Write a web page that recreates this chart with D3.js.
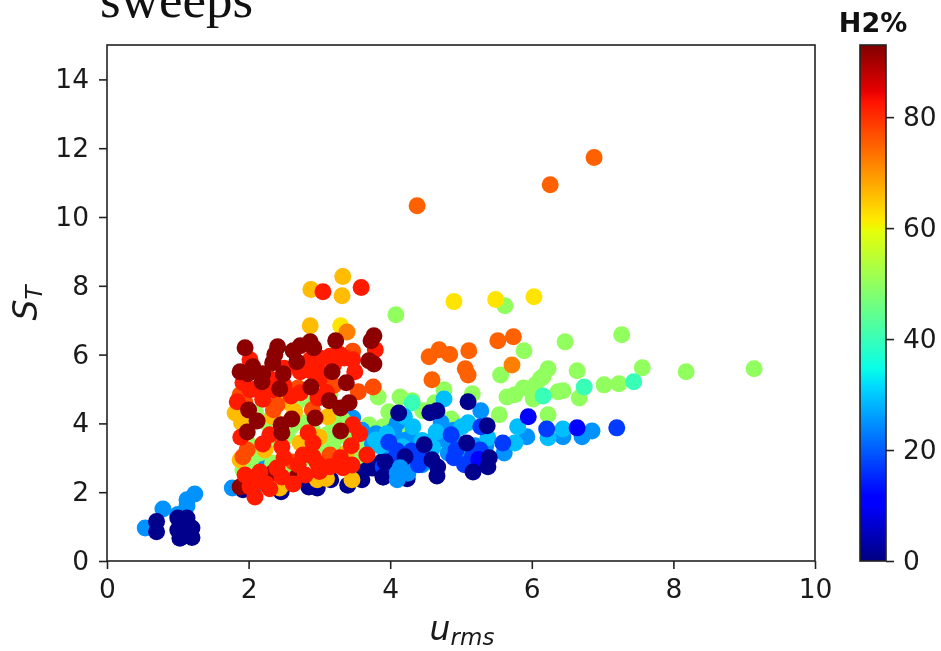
<!DOCTYPE html>
<html><head><meta charset="utf-8">
<script src="https://cdn.jsdelivr.net/npm/d3@7"></script>
<style>html,body{margin:0;padding:0;background:#fff;overflow:hidden}svg{display:block;filter:blur(0.5px)}</style>
</head><body><svg id="c" width="941" height="651"></svg>
<script>
// H2% level -> [u_rms, S_T] points, one small array per sweep, in drawing order
const xTicks=[0,2,4,6,8,10], yTicks=[0,2,4,6,8,10,12,14], cTicks=[0,20,40,60,80];
const h2Max=93;
const navyLow=[[1.92,2.07],[2.46,2.01],[2.85,2.15],[2.97,2.12],[3.16,2.36],[3.4,2.2],[3.6,2.36],[3.6,2.65],[3.9,2.44],[3.88,2.88],[4.24,2.39],[3.75,2.7]];
const azureLow=[[0.54,0.96],[0.79,1.51],[1.0,1.35],[1.13,1.6],[1.13,1.78],[1.24,1.95],[1.77,2.12],[2.13,2.85],[2.1,2.2],[2.6,2.3],[3.19,3.23],[3.47,4.16]];
const green=[[4.08,7.16],[5.62,7.42],[6.47,6.37],[7.27,6.58],[5.89,6.11],[6.23,5.59],[6.64,5.53],[7.56,5.62],[8.18,5.5],[9.14,5.59],[5.56,5.41],[7.02,5.12],[7.23,5.15],[5.65,4.77],[5.76,4.83],[5.88,5.03],[6.02,4.71],[6.05,5.12],[6.12,5.3],[6.16,5.36],[6.37,4.92],[6.44,4.95],[6.67,4.74],[6.23,4.25],[5.54,4.25],[4.76,4.98],[5.16,4.86],[4.14,4.77],[4.31,4.66],[3.98,4.34],[4.46,4.37],[4.86,4.13],[3.83,4.77],[3.9,3.9],[4.14,3.81],[4.63,4.6],[2.77,4.02],[2.23,4.05],[2.68,4.6],[2.91,4.6],[3.15,4.83],[3.11,3.67],[3.19,3.43],[2.16,3.14],[1.92,2.65],[2.34,2.85],[2.54,3.61],[3.33,4.1],[3.53,3.03],[2.0,2.75],[2.05,3.0],[3.4,2.85],[2.0,3.4],[2.4,3.5],[2.6,3.9],[2.9,3.8],[3.2,3.9],[2.1,4.3],[3.4,3.6],[3.0,3.2],[2.5,2.65],[3.5,3.4],[3.7,3.3],[3.7,3.95],[2.2,2.5],[2.8,3.0]];
const teal=[[6.74,5.06],[7.44,5.21],[6.16,4.8],[4.31,4.6]];
const azure=[[6.85,3.78],[6.71,3.61],[6.44,3.61],[5.93,3.61],[5.61,3.14],[5.28,4.37],[4.72,4.02],[4.1,4.02],[4.82,3.14],[4.0,3.6],[4.35,3.15],[4.6,3.5],[4.55,3.2],[4.0,3.0],[3.75,3.4],[3.95,3.3],[4.2,3.5],[4.75,3.55],[5.2,3.35],[4.3,3.6],[4.9,3.8],[5.0,3.4],[5.35,3.35],[4.05,3.8],[3.8,3.7],[3.6,3.8],[4.85,3.3],[5.1,3.1],[4.45,2.8],[4.2,2.9],[4.25,2.55]];
const sky=[[6.44,3.84],[6.23,3.58],[5.8,3.9],[5.76,3.43],[4.76,4.71],[5.01,3.9],[5.1,4.02],[4.32,3.9],[4.17,3.32],[4.45,3.5],[4.6,3.3],[5.38,3.58],[3.79,3.52],[3.85,3.35],[4.2,4.2],[4.65,3.75],[3.95,3.7]];
const blue=[[7.2,3.87],[6.21,3.84],[5.59,3.43],[5.28,3.9],[4.86,3.67],[4.93,3.23],[5.16,3.03],[4.43,3.0],[5.27,3.23],[3.98,3.45],[4.05,2.95],[3.9,2.75],[4.3,3.2],[4.4,2.8],[4.1,3.2],[4.9,3.0],[5.05,2.8]];
const purest=[[6.64,3.87],[5.95,4.19],[5.25,2.95]];
const navyTop=[[5.1,4.63],[4.12,4.3],[4.56,4.31],[4.66,4.37],[5.08,3.43],[4.48,3.38],[3.93,2.88],[4.67,2.73],[4.66,2.47],[5.17,2.59],[5.38,2.74],[5.4,3.0],[4.21,3.03],[4.59,2.94],[3.9,2.44],[5.37,3.93]];
const azureTop=[[4.1,2.36],[4.14,2.71],[4.1,2.55]];
const navyBlob=[[0.7,1.15],[0.7,0.85],[1.0,1.25],[1.13,1.25],[1.0,0.9],[1.2,0.96],[1.03,0.66],[1.2,0.68],[1.09,1.0]];
const yellow=[[4.9,7.54],[5.49,7.6],[6.03,7.68],[3.3,6.84]];
const gold=[[2.88,7.89],[3.32,7.71],[3.33,8.27],[2.87,6.84],[1.9,4.02],[1.81,4.3],[2.23,3.23],[2.97,2.36],[3.46,2.36],[2.44,2.12],[2.73,3.43],[1.88,2.94],[3.12,4.19],[2.34,4.19],[2.65,4.34],[3.38,3.14],[2.54,4.63],[3.1,2.4],[3.0,3.6]];
const orangeA=[[5.72,5.7],[3.39,6.66]];
const orangeB=[[4.38,10.33],[6.26,10.94],[6.88,11.73],[4.55,5.94],[4.69,6.14],[4.84,6.0],[5.11,6.11],[5.52,6.4],[5.74,6.52],[5.06,5.59],[5.1,5.41],[4.59,5.27]];
const darkLow=[[2.34,2.56],[2.68,2.44],[1.88,2.15]];
const orangeRed=[[3.55,4.92],[3.76,5.06],[1.88,4.83],[2.4,4.54],[2.7,5.03],[1.98,3.23],[1.92,3.03],[2.63,2.88],[3.15,3.08],[3.47,6.1],[1.95,4.6],[2.35,4.4],[2.9,4.4],[3.2,5.1]];
const red=[[3.05,7.83],[3.59,7.95],[2.02,5.85],[3.79,6.14],[3.29,6.0],[3.47,5.85],[2.87,5.85],[2.97,5.62],[2.73,5.5],[2.34,4.98],[2.2,4.89],[2.02,4.98],[1.84,4.63],[1.92,5.18],[2.98,4.74],[2.73,4.89],[1.89,3.6],[2.3,3.67],[2.47,3.32],[2.84,3.73],[2.91,3.43],[2.77,3.08],[2.97,2.85],[3.15,2.74],[3.33,2.71],[3.46,2.79],[3.67,3.08],[3.45,3.35],[3.57,3.7],[3.47,3.96],[1.95,2.5],[2.16,2.59],[2.09,1.86],[2.02,2.15],[2.25,2.24],[2.47,2.44],[2.63,2.24],[2.91,3.03],[3.35,5.9],[3.15,5.95],[2.5,5.6],[2.7,5.7],[2.9,5.5],[3.0,5.9],[3.2,5.7],[3.5,5.5],[3.0,5.3],[2.3,5.3],[2.5,5.1],[2.1,5.0],[2.6,4.8],[3.1,4.9],[2.2,4.7],[2.2,3.4],[2.5,3.0],[2.7,2.8],[3.0,2.6],[2.4,2.7],[2.8,2.5],[3.3,3.0],[2.1,2.3],[2.3,2.1]];
const dark=[[1.95,6.2],[2.41,6.23],[2.73,6.26],[2.87,6.37],[2.92,6.2],[3.23,6.4],[3.77,6.55],[3.73,6.4],[3.7,5.82],[3.77,5.73],[2.37,6.0],[2.63,6.11],[2.68,5.79],[2.34,5.76],[1.88,5.5],[1.99,5.44],[2.06,5.65],[2.2,5.44],[2.19,5.21],[2.49,5.44],[2.44,5.01],[2.88,5.06],[3.18,5.5],[3.38,5.18],[3.14,4.66],[3.3,4.45],[3.42,4.6],[2.0,4.39],[2.12,4.07],[1.98,3.75],[2.61,4.13],[2.46,3.96],[2.47,3.73],[2.94,4.16],[3.3,3.78]];
const sweeps=[[1,navyLow],[25,azureLow],[50,green],[40,teal],[25,azure],[29,sky],[17,blue],[11,purest],[1,navyTop],[25,azureTop],[1,navyBlob],[62,yellow],[66,gold],[72,orangeA],[75,orangeB],[92,darkLow],[77,orangeRed],[82,red],[92,dark]];

const jetStops=[[0,0,0,.5],[.11,0,0,1],[.125,0,0,1],[.34,0,.86,1],[.35,0,.9,.97],[.375,.04,1,.9],[.64,.9,1,.03],[.65,.94,.96,0],[.66,1,.92,0],[.89,1,.07,0],[.91,.91,0,0],[1,.5,0,0]];
const jet=d3.scaleLinear().domain(jetStops.map(d=>d[0])).range(jetStops.map(d=>d3.rgb(d[1]*255,d[2]*255,d[3]*255))).clamp(true);
const color=v=>jet(v/h2Max);

const L=107,R=815,T=45,B=561, ink='#222';
const svg=d3.select('#c');
const x=d3.scaleLinear().domain([0,10]).range([L,R]);
const y=d3.scaleLinear().domain([0,15]).range([B,T]);
const cy=d3.scaleLinear().domain([0,h2Max]).range([B,T]);

svg.append('text').attr('x',100).attr('y',17).attr('font-family','Liberation Serif').attr('font-size',53).attr('fill','#111').text('sweeps');

const marks=svg.append('g');
sweeps.forEach(([h,pts])=>{
  marks.selectAll(null).data(pts).enter().append('circle')
    .attr('cx',d=>x(d[0])).attr('cy',d=>y(d[1])).attr('r',8.5).attr('fill',color(h));
});

function styleAxis(g){
  g.selectAll('text').attr('font-family','DejaVu Sans').attr('font-size',26.5).attr('fill','#1a1a1a');
  g.selectAll('line').attr('stroke',ink).attr('stroke-width',1.6);
  g.select('.domain').remove();
}
svg.append('g').attr('transform',`translate(0,${B})`).call(d3.axisBottom(x).tickValues(xTicks).tickSize(8).tickPadding(10)).call(styleAxis);
svg.append('g').attr('transform',`translate(${L},0)`).call(d3.axisLeft(y).tickValues(yTicks).tickSize(8).tickPadding(10)).call(styleAxis);
svg.append('rect').attr('x',L).attr('y',T).attr('width',R-L).attr('height',B-T).attr('fill','none').attr('stroke',ink).attr('stroke-width',1.6);

// colour bar
const defs=svg.append('defs');
const lg=defs.append('linearGradient').attr('id','jet').attr('x1',0).attr('x2',0).attr('y1',1).attr('y2',0);
jetStops.forEach(s=>lg.append('stop').attr('offset',s[0]).attr('stop-color',jet(s[0])));
svg.append('rect').attr('x',860).attr('y',T).attr('width',26).attr('height',B-T).attr('fill','url(#jet)').attr('stroke',ink).attr('stroke-width',1.6);
svg.append('g').attr('transform','translate(886,0)').call(d3.axisRight(cy).tickValues(cTicks).tickSize(8).tickPadding(9)).call(styleAxis);
svg.append('text').attr('x',873).attr('y',32).attr('text-anchor','middle').attr('font-family','DejaVu Sans').attr('font-weight','bold').attr('font-size',27).attr('fill','#111').text('H2%');

// axis titles
const xl=svg.append('text').attr('x',462).attr('y',640).attr('text-anchor','middle').attr('font-family','DejaVu Sans').attr('font-style','italic').attr('font-size',33).attr('fill','#1a1a1a');
xl.append('tspan').text('u');
xl.append('tspan').attr('dy',5).attr('font-size',23).text('rms');
const yl=svg.append('text').attr('transform','translate(37,303) rotate(-90)').attr('text-anchor','middle').attr('font-family','DejaVu Sans').attr('font-style','italic').attr('font-size',33).attr('fill','#1a1a1a');
yl.append('tspan').text('S');
yl.append('tspan').attr('dy',5).attr('font-size',23).text('T');
</script></body></html>
